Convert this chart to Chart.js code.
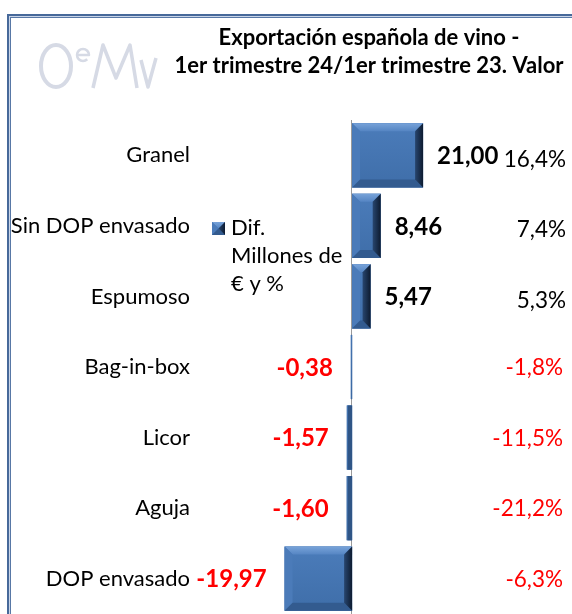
<!DOCTYPE html>
<html>
<head>
<meta charset="utf-8">
<script src="https://cdn.jsdelivr.net/npm/chart.js@4"></script>
<style>
  body { margin: 0; background: #fff; }
  #wrap { width: 572px; height: 614px; }
</style>
</head>
<body>
<div id="wrap"><canvas id="myChart" width="572" height="614"></canvas></div>
<script>
// datos
var categorias = ['Granel', 'Sin DOP envasado', 'Espumoso', 'Bag-in-box', 'Licor', 'Aguja', 'DOP envasado'];
var difMillones = [21.00, 8.46, 5.47, -0.38, -1.57, -1.60, -19.97];
var variacionPct = [16.4, 7.4, 5.3, -1.8, -11.5, -21.2, -6.3];
var tituloLineas = ['Exportación española de vino -', '1er trimestre 24/1er trimestre 23. Valor'];
var leyenda = ['Dif.', 'Millones de', '€ y %'];
var ejeMin = -45;
var ejeMax = 55;

var FUENTE = 'Lato, "Open Sans", sans-serif';
var AZUL = '#4371ab';

function fmt2(v) { return v.toFixed(2).replace('.', ','); }
function fmt1(v) { return v.toFixed(1).replace('.', ',') + '%'; }

function bisel(ctx, x0, y0, x1, y1) {
    var w = x1 - x0, h = y1 - y0;
    var b = Math.min(8, w / 2, h / 2);
    var g = ctx.createLinearGradient(0, y0, 0, y1);
    g.addColorStop(0, '#4b7cba');
    g.addColorStop(1, '#3f6ea9');
    ctx.fillStyle = g;
    ctx.fillRect(x0, y0, w, h);
    if (w < 8) {
        // barras finas: casi sin bisel
        ctx.fillStyle = '#2f5586';
        ctx.fillRect(x0 + 1, y0, w - 1, h);
        return;
    }
    // arriba
    g = ctx.createLinearGradient(0, y0, 0, y0 + b);
    g.addColorStop(0, '#78a3d9');
    g.addColorStop(1, '#5585c3');
    poly(ctx, [[x0, y0], [x1, y0], [x1 - b, y0 + b], [x0 + b, y0 + b]], g);
    // izquierda
    poly(ctx, [[x0, y0], [x0 + b, y0 + b], [x0 + b, y1 - b], [x0, y1]], '#4b7bb9');
    // abajo
    poly(ctx, [[x0, y1], [x1, y1], [x1 - b, y1 - b], [x0 + b, y1 - b]], '#335b8f');
    // derecha
    g = ctx.createLinearGradient(x1 - b, 0, x1, 0);
    g.addColorStop(0, '#28466f');
    g.addColorStop(1, '#0d1b30');
    poly(ctx, [[x1, y0], [x1, y1], [x1 - b, y1 - b], [x1 - b, y0 + b]], g);
}

function poly(ctx, pts, color) {
    ctx.beginPath();
    ctx.moveTo(pts[0][0], pts[0][1]);
    for (var i = 1; i < pts.length; i++) ctx.lineTo(pts[i][0], pts[i][1]);
    ctx.closePath();
    ctx.fillStyle = color;
    ctx.fill();
}

var fondo = {
    id: 'fondo',
    beforeDraw: function (chart) {
        var ctx = chart.ctx;
        var area = chart.chartArea;
        ctx.save();
        ctx.fillStyle = '#fff';
        ctx.fillRect(0, 0, chart.width, chart.height);
        // marco
        ctx.strokeStyle = '#47699a';
        ctx.lineWidth = 2;
        ctx.strokeRect(8, 15, chart.width + 20, chart.height + 20);
        ctx.strokeStyle = '#c9d5e8';
        ctx.lineWidth = 1;
        ctx.strokeRect(9.5, 16.5, chart.width + 20, chart.height + 20);
        ctx.strokeStyle = '#5878a6';
        ctx.strokeRect(10.5, 17.5, chart.width + 20, chart.height + 20);
        // logo OeMV
        ctx.strokeStyle = '#d6dae5';
        ctx.lineJoin = 'round';
        ctx.lineWidth = 4;
        ctx.beginPath();
        ctx.ellipse(56, 66, 15, 21, 0, 0, Math.PI * 2);
        ctx.stroke();
        ctx.lineWidth = 2.5;
        ctx.beginPath();
        ctx.arc(83, 55, 6, 0.25 * Math.PI, 2 * Math.PI);
        ctx.lineTo(77, 55);
        ctx.stroke();
        ctx.lineWidth = 3.5;
        ctx.beginPath();
        ctx.moveTo(93, 88);
        ctx.lineTo(103, 45);
        ctx.lineTo(116, 78);
        ctx.lineTo(130, 45);
        ctx.lineTo(137, 88);
        ctx.stroke();
        ctx.beginPath();
        ctx.moveTo(141, 60);
        ctx.lineTo(148, 87);
        ctx.lineTo(156, 58);
        ctx.stroke();
        // titulo
        ctx.fillStyle = '#000';
        ctx.font = 'bold 22px ' + FUENTE;
        ctx.textAlign = 'center';
        ctx.textBaseline = 'middle';
        tituloLineas.forEach(function (t, k) {
            ctx.fillText(t, (area.left + area.right) / 2, 38 + k * 28);
        });
        ctx.restore();
    },
    beforeDatasetsDraw: function (chart) {
        // linea del cero
        var ctx = chart.ctx;
        var x = Math.round(chart.scales.x.getPixelForValue(0)) - 0.5;
        ctx.save();
        ctx.strokeStyle = '#9a9a9a';
        ctx.lineWidth = 1;
        ctx.beginPath();
        ctx.moveTo(x, chart.chartArea.top);
        ctx.lineTo(x, chart.chartArea.bottom);
        ctx.stroke();
        ctx.restore();
    }
};

var etiquetas = {
    id: 'etiquetas',
    afterDatasetsDraw: function (chart) {
        var ctx = chart.ctx;
        var area = chart.chartArea;
        var meta = chart.getDatasetMeta(0);
        ctx.save();
        meta.data.forEach(function (bar, i) {
            var p = bar.getProps(['x', 'y', 'base', 'height'], true);
            var x0 = Math.min(p.x, p.base), x1 = Math.max(p.x, p.base);
            bisel(ctx, x0, p.y - p.height / 2, x1, p.y + p.height / 2);
        });
        ctx.textBaseline = 'middle';
        meta.data.forEach(function (bar, i) {
            var v = difMillones[i];
            ctx.font = 'bold 24px ' + FUENTE;
            if (v >= 0) {
                ctx.fillStyle = '#000';
                ctx.textAlign = 'left';
                ctx.fillText(fmt2(v), bar.x + 14, bar.y + 1);
            } else {
                ctx.fillStyle = '#ff0000';
                ctx.textAlign = 'right';
                ctx.fillText(fmt2(v), bar.x - 18, bar.y + 1);
            }
            var pc = variacionPct[i];
            ctx.font = '22.5px ' + FUENTE;
            ctx.fillStyle = pc >= 0 ? '#000' : '#ff0000';
            ctx.textAlign = 'right';
            ctx.fillText(fmt1(pc), area.right + (pc >= 0 ? 28 : 25), bar.y + (pc >= 0 ? 4 : 1));
        });
        // leyenda
        bisel(ctx, area.left + 12, area.top + 102, area.left + 25, area.top + 115);
        ctx.font = '22px ' + FUENTE;
        ctx.fillStyle = '#000';
        ctx.textAlign = 'left';
        leyenda.forEach(function (t, k) {
            ctx.fillText(t, area.left + 31, area.top + 108 + k * 28);
        });
        ctx.restore();
    }
};

var ctx = document.getElementById('myChart');

var chart = new Chart(ctx, {
    type: 'bar',
    data: {
        labels: categorias,
        datasets: [{
            label: leyenda.join(' '),
            data: difMillones,
            backgroundColor: AZUL,
            borderWidth: 0,
            categoryPercentage: 0.91,
            barPercentage: 1
        }]
    },
    options: {
        indexAxis: 'y',
        responsive: false,
        animation: false,
        devicePixelRatio: 1,
        layout: { padding: { left: 0, right: 34, top: 120, bottom: 0 } },
        plugins: {
            legend: { display: false },
            tooltip: { enabled: false },
            title: { display: false }
        },
        scales: {
            x: {
                display: false,
                min: ejeMin,
                max: ejeMax
            },
            y: {
                ticks: { color: '#000', font: { family: FUENTE, size: 22 }, padding: 10 },
                grid: { display: false, drawTicks: false },
                border: { display: false },
                afterFit: function (s) {
                    s.width = 200;
                    s.paddingTop = 0;
                    s.paddingBottom = 0;
                }
            }
        }
    },
    plugins: [fondo, etiquetas]
});
</script>
</body>
</html>
